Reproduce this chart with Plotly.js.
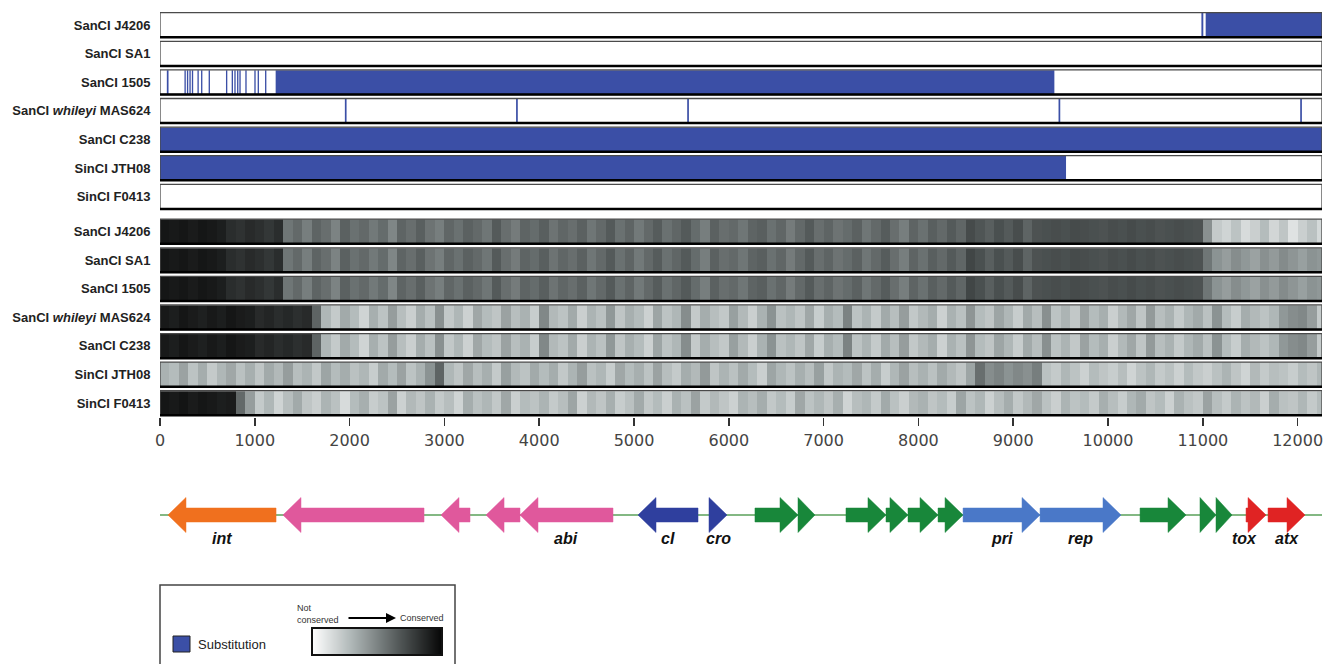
<!DOCTYPE html>
<html><head><meta charset="utf-8">
<script src="https://cdn.plot.ly/plotly-3.0.1.min.js"></script>
<style>html,body{margin:0;padding:0;background:#fff}#chart{width:1339px;height:664px}</style>
</head><body><div id="chart"></div>
<script>
// ---------------- DATA ----------------
const trackNames = ['SanCI J4206','SanCI SA1','SanCI 1505','SanCI <i>whileyi</i> MAS624','SanCI C238','SinCI JTH08','SinCI F0413'];
const genomeLength = 12257;
const binSize = 100;
const xTicks = [0,1000,2000,3000,4000,5000,6000,7000,8000,9000,10000,11000,12000];

// substitution segments [start, end] in bp
const subJ4206 = [[10985,11005],[11030,12257]];
const subSA1 = [];
const sub1505 = [[72,90],[258,272],[284,298],[310,324],[336,350],[395,409],[433,447],[513,527],[696,710],[756,770],[784,798],[813,827],[837,851],[900,914],[995,1009],[1030,1044],[1108,1122],[1220,9434]];
const subMAS624 = [[1950,1968],[3756,3774],[5561,5579],[9478,9496],[12027,12045]];
const subC238 = [[0,12257]];
const subJTH08 = [[0,9557]];
const subF0413 = [];

// conservation (0 = not conserved, 100 = conserved), 100 bp bins
const consJ4206 = [93,92,93,91,93,92,90,84,82,85,83,80,84,
55,60,52,62,58,50,63,57,60,54,
59,49,62,58,64,56,52,61,57,63,
60,55,66,58,53,62,59,64,56,61,
58,63,55,60,66,57,62,54,60,65,
57,61,66,59,52,63,58,60,55,62,
64,57,61,53,60,66,58,62,56,59,
63,55,60,65,58,52,62,57,64,60,
66,61,72,68,64,70,66,71,62,
69,70,71,70,72,71,70,69,71,70,72,70,71,69,70,71,70,69,45,
22,18,25,15,20,28,17,24,12,20,26,16];
const consSA1 = [93,92,93,91,93,92,90,84,82,85,83,80,84,
55,60,52,62,58,50,63,57,60,54,
59,49,62,58,64,56,52,61,57,63,
60,55,66,58,53,62,59,64,56,61,
58,63,55,60,66,57,62,54,60,65,
57,61,66,59,52,63,58,60,55,62,
64,57,61,53,60,66,58,62,56,59,
63,55,60,65,58,52,62,57,64,60,
66,61,74,70,64,70,66,71,62,
69,70,71,70,72,71,70,69,71,70,72,70,71,69,70,71,70,69,55,
44,40,46,42,38,45,41,47,43,39,44,42];
const cons1505 = [93,92,93,91,93,92,90,84,82,85,83,80,84,
55,60,52,62,58,50,63,57,60,54,
59,49,62,58,64,56,52,61,57,63,
60,55,66,58,53,62,59,64,56,61,
58,63,55,60,66,57,62,54,60,65,
57,61,66,59,52,63,58,60,55,62,
64,57,61,53,60,66,58,62,56,59,
63,55,60,65,58,52,62,57,64,60,
66,61,74,70,64,70,66,71,62,
69,70,71,70,72,71,70,69,71,70,72,70,71,69,70,71,70,69,55,
44,40,46,42,38,45,41,47,43,39,44,42];
const consMAS624 = [92,90,93,91,89,92,90,93,91,90,85,87,84,86,83,85,62,
30,22,35,28,18,33,25,40,27,20,
34,26,45,23,30,19,36,28,24,38,
27,32,21,48,29,25,35,20,31,26,
42,24,33,28,19,37,25,30,46,22,
34,27,23,39,29,20,32,44,26,30,
24,36,21,33,28,50,25,31,22,35,
27,40,23,29,34,19,32,26,43,28,
24,37,30,21,35,27,45,25,31,23,
38,28,33,20,29,36,24,41,27,32,
22,30,35,26,44,28,21,34,29,25,
30,42,46,48,40,22];
const consC238 = [92,90,93,91,89,92,90,93,91,90,85,87,84,86,83,85,62,
30,22,35,28,18,33,25,40,27,20,
34,26,45,23,30,19,36,28,24,38,
27,32,21,48,29,25,35,20,31,26,
42,24,33,28,19,37,25,30,46,22,
34,27,23,39,29,20,32,44,26,30,
24,36,21,33,28,50,25,31,22,35,
27,40,23,29,34,19,32,26,43,28,
24,37,30,21,35,27,45,25,31,23,
38,28,33,20,29,36,24,41,27,32,
22,30,35,26,44,28,21,34,29,25,
30,42,46,48,40,22];
const consJTH08 = [32,28,38,25,34,22,30,36,26,33,
24,35,29,40,27,31,23,37,28,34,
26,30,21,35,28,38,25,32,44,62,
30,24,36,27,33,22,39,29,25,35,
28,34,23,31,40,26,30,21,36,28,
33,25,38,27,22,34,29,41,24,31,
26,35,28,20,37,30,25,33,27,39,
23,31,28,36,25,34,21,30,38,27,
32,26,35,29,24,37,58,46,50,44,
48,45,52,26,22,30,25,19,28,24,
21,27,18,25,30,22,26,19,28,23,
20,26,31,24,18,29,22,27,25,21,
28,24,30];
const consF0413 = [93,92,94,91,93,92,90,91,60,40,
22,30,18,27,35,24,20,31,26,15,
28,33,21,25,38,19,29,24,32,22,
27,18,34,26,30,23,36,20,28,25,
31,22,27,37,19,29,24,33,21,26,
35,23,28,20,32,26,38,22,29,24,
19,31,27,34,23,28,21,36,25,30,
24,33,18,27,30,22,35,26,20,29,
32,24,28,21,37,25,30,19,27,34,
23,29,36,26,20,31,25,28,22,33,
27,21,30,35,24,28,19,32,26,23,
38,27,22,31,25,29,20,34,26,24,
30,22,28];

// legend gradient stops (not conserved -> conserved)
const legendRamp = [0,10,20,30,40,50,60,70,80,90,100];

// genes
const geneStart  = [84,1297,2964,3439,3797,5042,5791,6276,6730,7236,7658,7890,8207,8471,9283,10338,10970,11139,11456,11688];
const geneEnd    = [1224,2785,3270,3797,4778,5675,5981,6730,6909,7658,7890,8207,8471,9283,10137,10823,11139,11308,11667,12078];
const geneStrand = [-1,-1,-1,-1,-1,-1,1,1,1,1,1,1,1,1,1,1,1,1,1,1];
const geneGroup  = ['integrase','abi','abi','abi','abi','regulator','regulator','other','other','other','other','other','other','replication','replication','other','other','other','toxin','toxin'];
const geneLabel  = ['int','','','','abi','cI','cro','','','','','','','pri','rep','','','','tox','atx'];

// ---------------- STYLE ----------------
const groupColors = {integrase:'#f0701e', abi:'#e0589c', regulator:'#2f3f9e', other:'#18873a', replication:'#4a78c8', toxin:'#e02323'};
const subColor = '#3b4fa6';
const consScale = [[0,'#ffffff'],[0.3,'#afb7b7'],[0.65,'#565c5c'],[1,'#050505']];

// ---------------- BUILD ----------------
const subTracks = [subJ4206, subSA1, sub1505, subMAS624, subC238, subJTH08, subF0413];
const consTracks = [consJ4206, consSA1, cons1505, consMAS624, consC238, consJTH08, consF0413];
const rows = trackNames.map((_, i) => i);
const px = v => (v - 160) / 1162;
const py = v => 1 - v / 664;

const barY = [], barBase = [], barLen = [];
subTracks.forEach((segs, i) => segs.forEach(s => { barY.push(i); barBase.push(s[0]); barLen.push(s[1] - s[0]); }));

const traces = [];
traces.push({
  type: 'bar', orientation: 'h', y: barY, base: barBase, x: barLen, width: 0.84,
  marker: {color: subColor, line: {width: 0}}, xaxis: 'x', yaxis: 'y', hoverinfo: 'skip', showlegend: false
});

const nBins = consJ4206.length;
const binCenters = Array.from({length: nBins}, (_, i) => i * binSize + binSize / 2);
traces.push({
  type: 'heatmap', x: binCenters, y: rows, z: consTracks, zmin: 0, zmax: 100, ygap: 4,
  colorscale: consScale, xaxis: 'x', yaxis: 'y2', hoverinfo: 'skip', showscale: false
});

// legend gradient
traces.push({
  type: 'heatmap', x: legendRamp, y: [0], z: [legendRamp], zmin: 0, zmax: 100, zsmooth: 'best',
  colorscale: consScale, xaxis: 'x2', yaxis: 'y4', hoverinfo: 'skip', showscale: false
});

// gene backbone
traces.push({type: 'scatter', mode: 'lines', x: [-100, genomeLength], y: [0, 0], line: {color: '#5aa05a', width: 1.5},
  xaxis: 'x', yaxis: 'y3', hoverinfo: 'skip', showlegend: false});

const bodyH = 0.28, headH = 0.7, headLen = 190;
const annotations = [];
geneStart.forEach((s, i) => {
  const e = geneEnd[i];
  const hl = Math.min(headLen, e - s);
  let xs;
  if (geneStrand[i] > 0) {
    xs = [s, e - hl, e - hl, e, e - hl, e - hl, s, s];
  } else {
    xs = [e, s + hl, s + hl, s, s + hl, s + hl, e, e];
  }
  const ys = [-bodyH, -bodyH, -headH, 0, headH, bodyH, bodyH, -bodyH];
  const c = groupColors[geneGroup[i]];
  traces.push({type: 'scatter', mode: 'lines', x: xs, y: ys, fill: 'toself', fillcolor: c,
    line: {color: c, width: 0.5}, xaxis: 'x', yaxis: 'y3', hoverinfo: 'skip', showlegend: false});
  if (geneLabel[i]) {
    annotations.push({x: (s + e) / 2, y: -0.92, xref: 'x', yref: 'y3', text: '<b><i>' + geneLabel[i] + '</i></b>',
      showarrow: false, xshift: geneLabel[i] === 'tox' ? -12 : 0,
      font: {family: 'Arial, Liberation Sans', size: 16, color: '#111'}});
  }
});

const shapes = [];
rows.forEach(i => {
  ['y', 'y2'].forEach(yr => {
    shapes.push({type: 'rect', xref: 'x', yref: yr, x0: 0, x1: genomeLength, y0: i - 0.43, y1: i + 0.43,
      line: {color: '#4a4a4a', width: 1.3}, fillcolor: 'rgba(0,0,0,0)', layer: 'above'});
    shapes.push({type: 'line', xref: 'x', yref: yr, x0: 0, x1: genomeLength, y0: i + 0.43, y1: i + 0.43,
      line: {color: '#000', width: 2.5}, layer: 'above'});
  });
});

// legend box
shapes.push({type: 'rect', xref: 'paper', yref: 'paper', x0: px(160), x1: px(455), y0: py(680), y1: py(585),
  line: {color: '#444', width: 1.5}, fillcolor: 'rgba(0,0,0,0)'});
shapes.push({type: 'rect', xref: 'paper', yref: 'paper', x0: px(173), x1: px(190), y0: py(652), y1: py(636),
  line: {color: '#222', width: 1}, fillcolor: subColor});
shapes.push({type: 'rect', xref: 'paper', yref: 'paper', x0: px(312), x1: px(442), y0: py(655), y1: py(628),
  line: {color: '#111', width: 2}, fillcolor: 'rgba(0,0,0,0)', layer: 'above'});
annotations.push({xref: 'paper', yref: 'paper', x: px(196), y: py(644), xanchor: 'left', yanchor: 'middle',
  text: 'Substitution', showarrow: false, font: {family: 'Arial, Liberation Sans', size: 13, color: '#222'}});
annotations.push({xref: 'paper', yref: 'paper', x: px(295), y: py(614), xanchor: 'left', yanchor: 'middle', align: 'left',
  text: 'Not<br>conserved', showarrow: false, font: {family: 'Arial, Liberation Sans', size: 9, color: '#333'}});
annotations.push({xref: 'paper', yref: 'paper', x: px(398), y: py(618), xanchor: 'left', yanchor: 'middle',
  text: 'Conserved', showarrow: false, font: {family: 'Arial, Liberation Sans', size: 9, color: '#333'}});
annotations.push({xref: 'paper', yref: 'paper', x: px(396), y: py(618), ax: -49, ay: 0, text: '',
  showarrow: true, arrowhead: 2, arrowsize: 1, arrowwidth: 2, arrowcolor: '#000'});

const yTickFont = {family: 'Arial, Liberation Sans', size: 13, weight: 'bold', color: '#222'};
const layout = {
  width: 1339, height: 664, autosize: false,
  margin: {l: 160, r: 17, t: 0, b: 0},
  paper_bgcolor: '#fff', plot_bgcolor: '#fff',
  showlegend: false, barmode: 'overlay',
  xaxis: {range: [0, genomeLength], anchor: 'y2', tickvals: xTicks, ticktext: xTicks.map(String), ticks: 'outside', ticklen: 8,
    tickcolor: '#333', tickwidth: 1.5, tickfont: {family: 'DejaVu Sans', size: 16, color: '#444'},
    showgrid: false, zeroline: false, showline: false, automargin: false},
  yaxis: {domain: [1 - 210.9/664, 1 - 10.7/664], range: [6.5, -0.5], tickvals: rows, ticktext: trackNames,
    tickfont: yTickFont, ticks: 'outside', ticklen: 6, tickcolor: 'rgba(0,0,0,0)',
    showgrid: false, zeroline: false, anchor: 'x', automargin: false},
  yaxis2: {domain: [1 - 417.3/664, 1 - 217.2/664], range: [6.5, -0.5], tickvals: rows, ticktext: trackNames,
    tickfont: yTickFont, ticks: 'outside', ticklen: 6, tickcolor: 'rgba(0,0,0,0)',
    showgrid: false, zeroline: false, anchor: 'x', automargin: false},
  yaxis3: {domain: [1 - 540/664, 1 - 490/664], range: [-1, 1], visible: false, anchor: 'x'},
  xaxis2: {domain: [px(312), px(442)], range: [0, 100], visible: false, anchor: 'y4'},
  yaxis4: {domain: [py(655), py(628)], range: [-0.5, 0.5], visible: false, anchor: 'x2'},
  shapes: shapes,
  annotations: annotations
};

Plotly.newPlot('chart', traces, layout, {displayModeBar: false, staticPlot: true});
</script></body></html>
